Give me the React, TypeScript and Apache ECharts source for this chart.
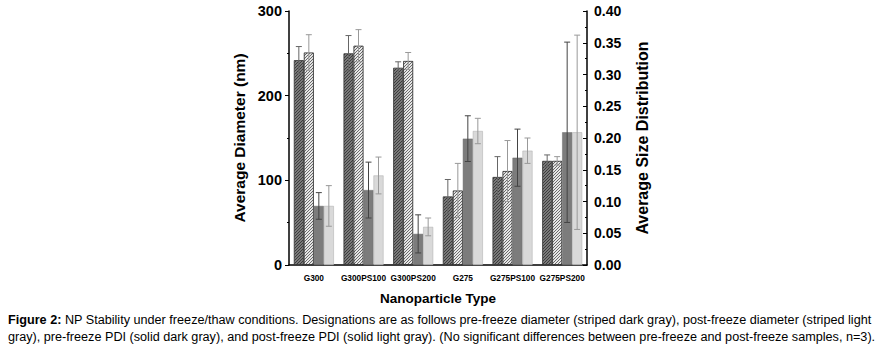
import React, { useEffect, useRef } from "react";
import * as echarts from "echarts";

const categories = ["G300", "G300PS100", "G300PS200", "G275", "G275PS100", "G275PS200"];
const preDiameter = [242, 250, 233, 81, 104, 123];
const preDiameterErr = [16, 21, 7, 20, 24, 7];
const postDiameter = [251, 259, 241, 88, 111, 123];
const postDiameterErr = [21, 19, 10, 32, 36, 5];
const prePDI = [0.093, 0.118, 0.049, 0.199, 0.169, 0.209];
const prePDIErr = [0.021, 0.044, 0.030, 0.036, 0.045, 0.142];
const postPDI = [0.093, 0.141, 0.060, 0.211, 0.180, 0.209];
const postPDIErr = [0.032, 0.029, 0.014, 0.020, 0.020, 0.153];

const leftTicks = { min: 0, max: 300, interval: 100 };
const rightTicks = { min: 0, max: 0.4, interval: 0.05 };

const captionLine1 =
  "NP Stability under freeze/thaw conditions. Designations are as follows pre-freeze diameter (striped dark gray), post-freeze diameter (striped light";
const captionLine2 =
  "gray), pre-freeze PDI (solid dark gray), and post-freeze PDI (solid light gray). (No significant differences between pre-freeze and post-freeze samples, n=3).";

const BAR_W = 10;
const FONT = "Arial, Liberation Sans";

function makeHatch(bg: string, fg: string, s = 3) {
  const c = document.createElement("canvas");
  c.width = s;
  c.height = s;
  const ctx = c.getContext("2d")!;
  ctx.fillStyle = bg;
  ctx.fillRect(0, 0, s, s);
  ctx.fillStyle = fg;
  for (let x = 0; x < s; x++) ctx.fillRect(x, s - 1 - x, 1, 1);
  return c;
}

export default function App() {
  const ref = useRef<HTMLDivElement>(null);
  useEffect(() => {
    if (!ref.current) return;
    const chart = echarts.init(ref.current, null, { renderer: "svg" });

    const errSeries = (
      vals: number[],
      errs: number[],
      idx: number,
      yAxisIndex: number,
      color: string
    ) => ({
      type: "custom",
      xAxisIndex: 0,
      yAxisIndex,
      z: 10,
      silent: true,
      data: vals.map((v, i) => [i, v, errs[i]]),
      renderItem: (params: any, api: any) => {
        const x = api.value(0);
        const v = api.value(1);
        const e = api.value(2);
        const top = api.coord([x, v + e]);
        const bot = api.coord([x, v - e]);
        const cx = top[0] + (idx - 1.5) * BAR_W;
        const cap = 3;
        const st = { stroke: color, lineWidth: 1 };
        return {
          type: "group",
          children: [
            { type: "line", shape: { x1: cx, y1: top[1], x2: cx, y2: bot[1] }, style: st },
            { type: "line", shape: { x1: cx - cap, y1: top[1], x2: cx + cap, y2: top[1] }, style: st },
            { type: "line", shape: { x1: cx - cap, y1: bot[1], x2: cx + cap, y2: bot[1] }, style: st },
          ],
        };
      },
    });

    const darkHatch = { image: makeHatch("#7a7a7a", "#3c3c3c"), repeat: "repeat" };
    const lightHatch = { image: makeHatch("#e6e6e6", "#6a6a6a"), repeat: "repeat" };

    const option: any = {
      animation: false,
      grid: { left: 289, right: 297, top: 11, bottom: 83, containLabel: false },
      xAxis: [
        {
          type: "category",
          data: categories,
          name: "Nanoparticle Type",
          nameLocation: "middle",
          nameGap: 26,
          nameTextStyle: { fontFamily: FONT, fontWeight: "bold", fontSize: 13.5, color: "#000" },
          axisLine: { lineStyle: { color: "#000", width: 1.5 } },
          axisTick: { alignWithLabel: true, length: 4, lineStyle: { color: "#000" } },
          axisLabel: { fontFamily: FONT, fontWeight: "bold", fontSize: 8.3, color: "#000", margin: 9, interval: 0 },
        },
        {
          type: "category",
          data: categories,
          position: "bottom",
          axisLine: { show: false },
          axisTick: { length: 2, lineStyle: { color: "#000" } },
          axisLabel: { show: false },
        },
      ],
      yAxis: [
        {
          type: "value",
          ...leftTicks,
          name: "Average Diameter (nm)",
          nameLocation: "middle",
          nameGap: 42,
          nameTextStyle: { fontFamily: FONT, fontWeight: "bold", fontSize: 15.5, color: "#000" },
          axisLine: { show: true, lineStyle: { color: "#000", width: 1.5 } },
          axisTick: { show: true, length: 4, lineStyle: { color: "#000" } },
          minorTick: { show: true, splitNumber: 2, length: 2, lineStyle: { color: "#000" } },
          splitLine: { show: false },
          axisLabel: { fontFamily: FONT, fontWeight: "bold", fontSize: 14.5, color: "#000", margin: 7 },
        },
        {
          type: "value",
          ...rightTicks,
          position: "right",
          name: "Average Size Distribution",
          nameLocation: "middle",
          nameGap: 47,
          nameTextStyle: { fontFamily: FONT, fontWeight: "bold", fontSize: 16, color: "#000" },
          axisLine: { show: true, lineStyle: { color: "#000", width: 1.5 } },
          axisTick: { show: true, inside: true, length: 4, lineStyle: { color: "#000" } },
          minorTick: { show: true, splitNumber: 2, length: 2, lineStyle: { color: "#000" } },
          splitLine: { show: false },
          axisLabel: {
            fontFamily: FONT,
            fontWeight: "bold",
            fontSize: 14,
            color: "#000",
            margin: 7,
            formatter: (v: number) => v.toFixed(2),
          },
        },
      ],
      series: [
        {
          type: "bar",
          name: "pre-freeze diameter",
          yAxisIndex: 0,
          data: preDiameter,
          barWidth: BAR_W,
          barGap: "0%",
          itemStyle: { color: darkHatch, borderColor: "#333", borderWidth: 0.8 },
        },
        {
          type: "bar",
          name: "post-freeze diameter",
          yAxisIndex: 0,
          data: postDiameter,
          barWidth: BAR_W,
          barGap: "0%",
          itemStyle: { color: lightHatch, borderColor: "#222", borderWidth: 0.8 },
        },
        {
          type: "bar",
          name: "pre-freeze PDI",
          yAxisIndex: 1,
          data: prePDI,
          barWidth: BAR_W,
          barGap: "0%",
          itemStyle: { color: "#7c7c7c", borderColor: "#6a6a6a", borderWidth: 0.5 },
        },
        {
          type: "bar",
          name: "post-freeze PDI",
          yAxisIndex: 1,
          data: postPDI,
          barWidth: BAR_W,
          barGap: "0%",
          itemStyle: { color: "#d9d9d9", borderColor: "#aaaaaa", borderWidth: 0.5 },
        },
        errSeries(preDiameter, preDiameterErr, 0, 0, "#666"),
        errSeries(postDiameter, postDiameterErr, 1, 0, "#999"),
        errSeries(prePDI, prePDIErr, 2, 1, "#444"),
        errSeries(postPDI, postPDIErr, 3, 1, "#999"),
      ],
      graphic: [
        {
          type: "text",
          left: 8,
          top: 313,
          style: {
            text: "{b|Figure 2:} " + captionLine1,
            fontFamily: FONT,
            fontSize: 12.65,
            fill: "#000",
            rich: { b: { fontWeight: "bold", fontSize: 12.65, fontFamily: FONT } },
          },
        },
        {
          type: "text",
          left: 8,
          top: 330,
          style: {
            text: captionLine2,
            fontFamily: FONT,
            fontSize: 12.65,
            fill: "#000",
          },
        },
      ],
    };
    chart.setOption(option);
    return () => chart.dispose();
  }, []);
  return (
    <div
      ref={ref}
      style={{ position: "fixed", left: 0, top: 0, width: 884, height: 348, background: "#fff" }}
    />
  );
}
